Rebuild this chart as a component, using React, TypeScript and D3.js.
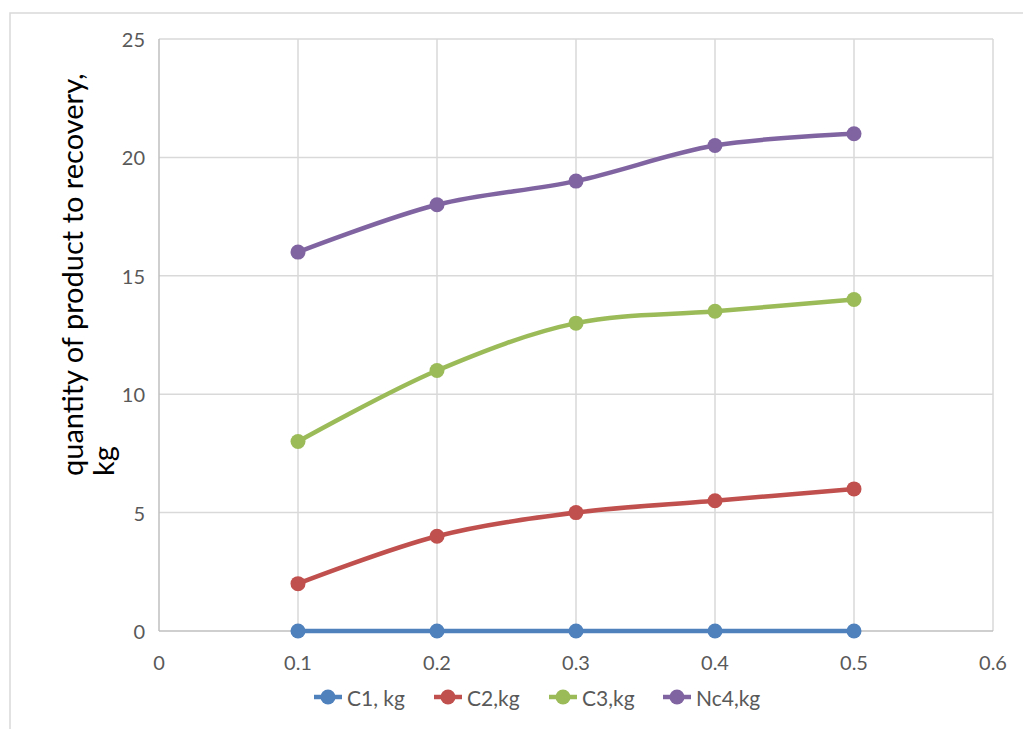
import React from "react";
import * as d3 from "d3";

// Fraction values along the horizontal axis
const xValues = [0.1, 0.2, 0.3, 0.4, 0.5];
const xTicks = [0, 0.1, 0.2, 0.3, 0.4, 0.5, 0.6];
const yTicks = [0, 5, 10, 15, 20, 25];

// Recovered product quantity per component, kg
const c1 = [0, 0, 0, 0, 0];
const c2 = [2, 4, 5, 5.5, 6];
const c3 = [8, 11, 13, 13.5, 14];
const nc4 = [16, 18, 19, 20.5, 21];

const seriesNames = ["C1, kg", "C2,kg", "C3,kg", "Nc4,kg"];
const seriesColors = ["#4F81BD", "#C0504D", "#9BBB59", "#8064A2"];
const seriesValues = [c1, c2, c3, nc4];

const W = 1023;
const H = 729;
const plot = { left: 159, right: 993, top: 39, bottom: 631 };
const FONT = "Lato, 'Open Sans', sans-serif";

export default function App() {
  const x = d3.scaleLinear().domain([0, 0.6]).range([plot.left, plot.right]);
  const y = d3.scaleLinear().domain([0, 25]).range([plot.bottom, plot.top]);

  const line = d3
    .line<number>()
    .x((_, i) => x(xValues[i]))
    .y((v) => y(v))
    .curve(d3.curveCatmullRom.alpha(0.5));

  const legendX = [328, 448, 563, 677];
  const legendY = 697;

  return (
    <svg
      width={W}
      height={H}
      style={{ position: "fixed", left: 0, top: 0, background: "#fff" }}
      fontFamily={FONT}
    >
      <rect x={0} y={0} width={W} height={H} fill="#fff" />
      <rect x={10} y={13} width={W + 20} height={H + 20} fill="none" stroke="#d9d9d9" strokeWidth={1.5} />

      {/* grid */}
      {yTicks.slice(1).map((t) => (
        <line key={"gy" + t} x1={plot.left} x2={plot.right} y1={y(t)} y2={y(t)} stroke="#d9d9d9" strokeWidth={1.5} />
      ))}
      {xTicks.slice(1).map((t) => (
        <line key={"gx" + t} x1={x(t)} x2={x(t)} y1={plot.top} y2={plot.bottom} stroke="#d9d9d9" strokeWidth={1.5} />
      ))}
      {/* axes */}
      <line x1={plot.left} x2={plot.left} y1={plot.top} y2={plot.bottom} stroke="#bfbfbf" strokeWidth={1.5} />
      <line x1={plot.left} x2={plot.right} y1={plot.bottom} y2={plot.bottom} stroke="#bfbfbf" strokeWidth={1.5} />

      {/* tick labels */}
      {yTicks.map((t) => (
        <text key={"ty" + t} x={145} y={y(t)} textAnchor="end" dominantBaseline="central" fontSize={20} fill="#595959">
          {t}
        </text>
      ))}
      {xTicks.map((t) => (
        <text key={"tx" + t} x={x(t)} y={662} textAnchor="middle" dominantBaseline="central" fontSize={20} fill="#595959">
          {d3.format("~g")(t)}
        </text>
      ))}

      {/* axis title */}
      <text transform="translate(83,476) rotate(-90)" fontSize={29} fill="#000">
        quantity of product to recovery,
      </text>
      <text transform="translate(114,476) rotate(-90)" fontSize={29} fill="#000">
        kg
      </text>

      {/* series */}
      {seriesValues.map((vals, si) => (
        <g key={"s" + si}>
          <path d={line(vals) || ""} fill="none" stroke={seriesColors[si]} strokeWidth={4.5} strokeLinecap="round" />
          {vals.map((v, i) => (
            <circle key={i} cx={x(xValues[i])} cy={y(v)} r={7.5} fill={seriesColors[si]} />
          ))}
        </g>
      ))}

      {/* legend */}
      {seriesNames.map((name, i) => (
        <g key={"l" + i}>
          <line x1={legendX[i] - 14} x2={legendX[i] + 14} y1={legendY} y2={legendY} stroke={seriesColors[i]} strokeWidth={4.5} />
          <circle cx={legendX[i]} cy={legendY} r={7.5} fill={seriesColors[i]} />
          <text x={legendX[i] + 19} y={legendY} dominantBaseline="central" fontSize={21} fill="#595959">
            {name}
          </text>
        </g>
      ))}
    </svg>
  );
}
